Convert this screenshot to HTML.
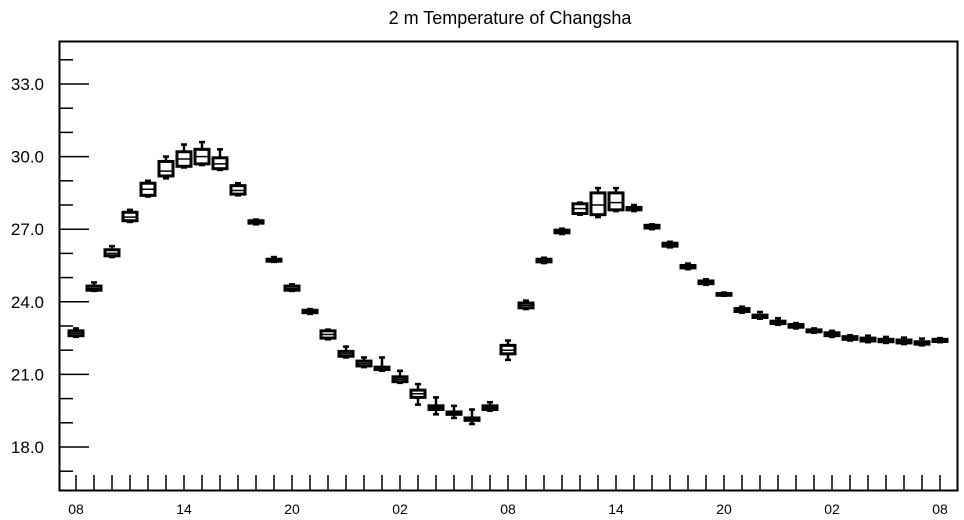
<!DOCTYPE html>
<html><head><meta charset="utf-8"><style>
html,body{margin:0;padding:0;background:#fff;}
svg{display:block;font-family:"Liberation Sans",Arial,sans-serif;}
</style></head><body>
<svg id="chart" width="964" height="520" viewBox="0 0 964 520" xmlns="http://www.w3.org/2000/svg">
<text x="510" y="24" font-size="18" text-anchor="middle">2 m Temperature of Changsha</text>
<rect x="59.5" y="41.5" width="898" height="449" fill="none" stroke="#000" stroke-width="2"/>
<g id="axes"></g>
<g id="boxes"></g>
</svg>
<script>
const xLabels = ["08","14","20","02","08","14","20","02","08"];
const yTicks = [18.0, 21.0, 24.0, 27.0, 30.0, 33.0];
const med = [22.7,24.55,26.0,27.5,28.65,29.4,29.9,30.0,29.7,28.6,27.3,25.72,24.55,23.6,22.65,21.85,21.45,21.25,20.8,20.2,19.62,19.4,19.15,19.62,22.0,
23.85,25.7,26.9,27.85,28.0,28.1,27.85,27.1,26.35,25.45,24.8,24.3,23.65,23.4,23.15,23.0,22.8,22.65,22.5,22.45,22.4,22.35,22.3,22.4];
const q1 = [22.6,24.48,25.9,27.35,28.4,29.2,29.6,29.7,29.5,28.45,27.25,25.68,24.48,23.55,22.5,21.75,21.35,21.2,20.7,20.05,19.55,19.35,19.1,19.55,21.85,
23.75,25.65,26.85,27.65,27.6,27.8,27.8,27.05,26.3,25.4,24.75,24.27,23.6,23.35,23.1,22.95,22.76,22.6,22.45,22.38,22.35,22.3,22.25,22.36];
const q3 = [22.8,24.65,26.15,27.7,28.9,29.8,30.2,30.3,29.95,28.8,27.35,25.76,24.65,23.65,22.8,21.95,21.55,21.3,20.9,20.35,19.7,19.45,19.2,19.7,22.2,
23.95,25.76,26.96,28.05,28.5,28.5,27.9,27.16,26.42,25.5,24.86,24.34,23.72,23.45,23.2,23.06,22.84,22.72,22.56,22.5,22.45,22.42,22.35,22.45];
const lo = [22.55,24.45,25.85,27.3,28.35,29.1,29.55,29.65,29.45,28.4,27.2,25.65,24.45,23.5,22.45,21.7,21.3,21.15,20.65,19.75,19.35,19.2,18.95,19.5,21.6,
23.7,25.6,26.8,27.6,27.5,27.75,27.75,27.0,26.25,25.35,24.7,24.25,23.55,23.3,23.05,22.9,22.72,22.55,22.4,22.33,22.3,22.25,22.2,22.33];
const hi = [22.9,24.8,26.3,27.8,29.0,30.0,30.5,30.6,30.3,28.9,27.4,25.85,24.72,23.7,22.85,22.15,21.7,21.7,21.15,20.6,20.05,19.7,19.55,19.85,22.4,
24.05,25.82,27.02,28.1,28.7,28.7,28.0,27.2,26.48,25.58,24.93,24.38,23.8,23.58,23.32,23.12,22.9,22.8,22.62,22.6,22.55,22.52,22.48,22.5];

const NS="http://www.w3.org/2000/svg";
function yScale(v){ return 447 - (v-18)*24.2; }
function xScale(i){ return 76 + i*18; }
function mk(tag, attrs, parent){ const e=document.createElementNS(NS,tag); for(const k in attrs) e.setAttribute(k,attrs[k]); parent.appendChild(e); return e; }
const axes=document.getElementById('axes');
const boxes=document.getElementById('boxes');

// y ticks (major + minor every 1.0)
for(let v=17; v<=34; v++){
  const y=yScale(v);
  const major = (v%3===0);
  const t=mk('line',{x1:59,x2:major?89:73,y1:y,y2:y,stroke:'#000','stroke-width':1.5},axes);
  
  
}
yTicks.forEach(v=>{
  const t=mk('text',{x:44,y:yScale(v)+6,'font-size':17,'text-anchor':'end'},axes);
  t.textContent=v.toFixed(1);
  
  
});
// x ticks each hour
for(let i=0;i<med.length;i++){
  const x=xScale(i);
  const t=mk('line',{x1:x,x2:x,y1:491,y2:475,stroke:'#000','stroke-width':1.5},axes);
  
  
}
xLabels.forEach((s,k)=>{
  const t=mk('text',{x:xScale(k*6),y:514,'font-size':14,'text-anchor':'middle'},axes);
  t.textContent=s;
  
  
});
// boxes
for(let i=0;i<med.length;i++){
  const x=xScale(i);
  const g=mk('g',{},boxes);
  
  
  mk('line',{x1:x,x2:x,y1:yScale(hi[i]),y2:yScale(lo[i]),stroke:'#000','stroke-width':2.5},g);
  mk('line',{x1:x-3,x2:x+3,y1:yScale(hi[i]),y2:yScale(hi[i]),stroke:'#000','stroke-width':2.5},g);
  mk('line',{x1:x-3,x2:x+3,y1:yScale(lo[i]),y2:yScale(lo[i]),stroke:'#000','stroke-width':2.5},g);
  const yt=yScale(q3[i]), yb=yScale(q1[i]);
  mk('rect',{x:x-7,y:yt,width:14,height:Math.max(yb-yt,0.5),fill:'#fff',stroke:'#000','stroke-width':3},g);
  mk('line',{x1:x-7,x2:x+7,y1:yScale(med[i]),y2:yScale(med[i]),stroke:'#000','stroke-width':1.5},g);
}
</script>
</body></html>
